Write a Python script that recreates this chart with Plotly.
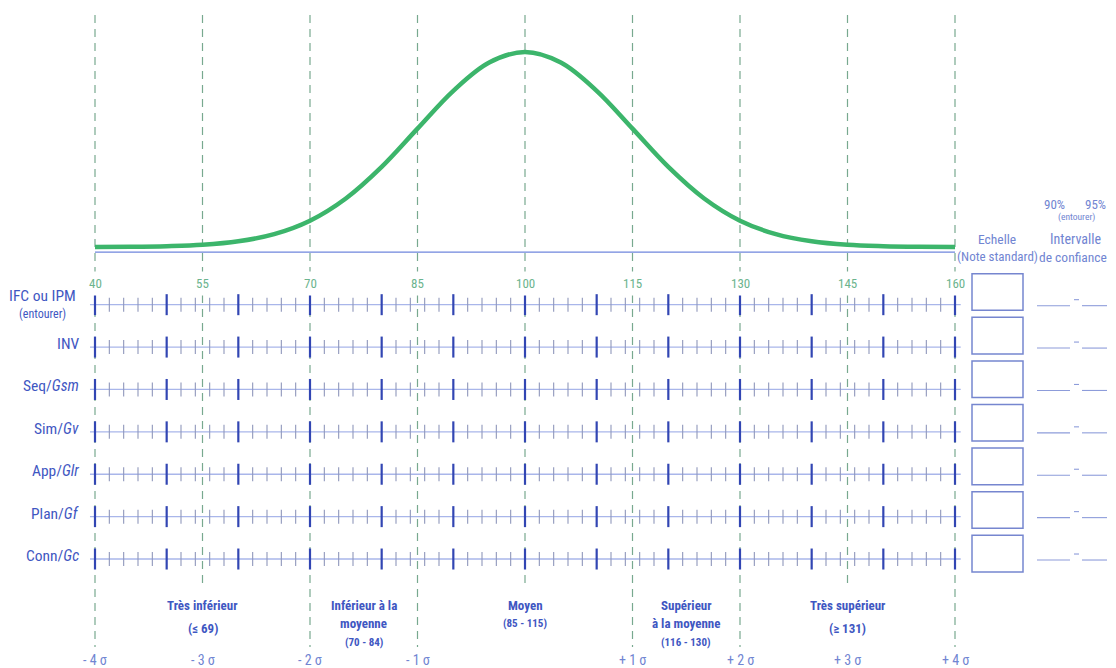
import plotly.graph_objects as go

# ---------------- data ----------------
score_min = 40
score_max = 160
major_ticks = [40, 50, 60, 70, 80, 90, 100, 110, 120, 130, 140, 150, 160]
minor_ticks = [42, 44, 46, 48, 52, 54, 56, 58, 62, 64, 66, 68, 72, 74, 76, 78,
               82, 84, 86, 88, 92, 94, 96, 98, 102, 104, 106, 108, 112, 114, 116, 118,
               122, 124, 126, 128, 132, 134, 136, 138, 142, 144, 146, 148, 152, 154, 156, 158]
guide_scores = [40, 55, 70, 85, 100, 115, 130, 145, 160]
guide_labels = ["40", "55", "70", "85", "100", "115", "130", "145", "160"]
sigma_labels = ["- 4 σ", "- 3 σ", "- 2 σ", "- 1 σ", "", "+ 1 σ", "+ 2 σ", "+ 3 σ", "+ 4 σ"]

curve_scores = [40, 45, 50, 55, 60, 65, 70, 75, 80, 85, 90, 95, 100,
                105, 110, 115, 120, 125, 130, 135, 140, 145, 150, 155, 160]
curve_height = [0.0, 0.1, 0.4, 1.1, 2.9, 6.6, 13.5, 24.9, 41.1, 60.7, 80.1, 94.6, 100.0,
                94.6, 80.1, 60.7, 41.1, 24.9, 13.5, 6.6, 2.9, 1.1, 0.4, 0.1, 0.0]

row_labels = ["IFC ou IPM", "INV", "Seq/<i>Gsm</i>", "Sim/<i>Gv</i>",
              "App/<i>Glr</i>", "Plan/<i>Gf</i>", "Conn/<i>Gc</i>"]
row_note = "(entourer)"

category_line1 = ["Très inférieur", "Inférieur à la", "Moyen", "Supérieur", "Très supérieur"]
category_line2 = ["", "moyenne", "", "à la moyenne", ""]
category_range = ["(≤ 69)", "(70 - 84)", "(85 - 115)", "(116 - 130)", "(≥ 131)"]
category_center = [55, 77.5, 100, 122.5, 145]

header_scale = ["Echelle", "(Note standard)"]
header_ci = ["Intervalle", "de confiance"]
ci_levels = ["90%", "95%"]

# ---------------- layout helpers ----------------
# the page puts the figure at (8, 8); positions below are screen pixels
OFF = 8
FW, FH = 1100, 660
FONT = "Roboto Condensed, Liberation Sans, Arial, sans-serif"
PX_PER_UNIT = 860 / 120.0
X40_PX = 95
x_range = [score_min + (OFF - X40_PX) / PX_PER_UNIT,
           score_min + (OFF + FW - X40_PX) / PX_PER_UNIT]

ROW0_PX, ROW_STEP_PX = 304.68, 42.39
y2_range = [(OFF + FH - ROW0_PX) / ROW_STEP_PX, (OFF - ROW0_PX) / ROW_STEP_PX]

CURVE_BASE_PX, CURVE_PX_PER_UNIT = 247.0, 1.95
Y_DOMAIN = [0.58, 0.97]
y_range = [(CURVE_BASE_PX - (OFF + (1 - Y_DOMAIN[0]) * FH)) / CURVE_PX_PER_UNIT,
           (CURVE_BASE_PX - (OFF + (1 - Y_DOMAIN[1]) * FH)) / CURVE_PX_PER_UNIT]


def py2row(py):
    return (py - ROW0_PX) / ROW_STEP_PX


def pyp(py):  # screen pixel y -> paper
    return 1 - (py - OFF) / FH


def pxp(px):  # screen pixel x -> paper
    return (px - OFF) / FW


C_GUIDE = "#78a98f"
C_CURVE = "#3cb56b"
C_BASE = "#6f86dd"
C_ROW = "#a9b6ea"
C_MAJOR = "#3246b3"
C_MINOR = "#8f97bb"
C_TEXT = "#3f57c2"
C_LIGHT = "#7185d2"
C_SCORE = "#6cb48e"

fig = go.Figure()

# bell curve
fig.add_trace(go.Scatter(x=curve_scores, y=curve_height, mode="lines",
                         line=dict(color=C_CURVE, width=4.5, shape="spline", smoothing=1.0),
                         xaxis="x", yaxis="y", hoverinfo="skip", showlegend=False))
# baseline under curve
fig.add_trace(go.Scatter(x=[score_min, score_max], y=[-2.6, -2.6], mode="lines",
                         line=dict(color=C_BASE, width=1.3),
                         xaxis="x", yaxis="y", hoverinfo="skip", showlegend=False))

# row lines
rx, ry = [], []
for i in range(len(row_labels)):
    rx += [score_min - 0.7, score_max + 0.8, None]
    ry += [i, i, None]
fig.add_trace(go.Scatter(x=rx, y=ry, mode="lines", line=dict(color=C_ROW, width=1.3),
                         xaxis="x2", yaxis="y2", hoverinfo="skip", showlegend=False))

# minor ticks
mx, my = [], []
for i in range(len(row_labels)):
    mx += minor_ticks
    my += [i] * len(minor_ticks)
fig.add_trace(go.Scatter(x=mx, y=my, mode="markers",
                         marker=dict(symbol="line-ns", size=10,
                                     line=dict(color=C_MINOR, width=1.1)),
                         xaxis="x2", yaxis="y2", hoverinfo="skip", showlegend=False))
# major ticks
Mx, My = [], []
for i in range(len(row_labels)):
    Mx += major_ticks
    My += [i] * len(major_ticks)
fig.add_trace(go.Scatter(x=Mx, y=My, mode="markers",
                         marker=dict(symbol="line-ns", size=15,
                                     line=dict(color=C_MAJOR, width=2.2)),
                         xaxis="x2", yaxis="y2", hoverinfo="skip", showlegend=False))

shapes = []
annotations = []

# dashed guide lines
for s in guide_scores:
    bottom = 587 if s in category_center else 647
    shapes.append(dict(type="line", xref="x", yref="paper", x0=s, x1=s,
                       y0=pyp(15), y1=pyp(bottom), layer="below",
                       line=dict(color=C_GUIDE, width=1.2, dash="8px,6px")))

# score labels and sigma labels
for s, lab, sig in zip(guide_scores, guide_labels, sigma_labels):
    annotations.append(dict(x=s, y=pyp(283), xref="x", yref="paper", text=lab,
                            xanchor="center", yanchor="middle", showarrow=False,
                            bgcolor="white", borderpad=4,
                            font=dict(family=FONT, size=13, color=C_SCORE)))
    if sig:
        annotations.append(dict(x=s, y=pyp(660), xref="x", yref="paper", text=sig,
                                xanchor="center", yanchor="middle", showarrow=False,
                                font=dict(family=FONT, size=14, color=C_LIGHT)))

# row labels
for i, lab in enumerate(row_labels):
    if i == 0:
        annotations.append(dict(x=pxp(43), y=i, xref="paper", yref="y2", text=lab,
                                showarrow=False, xanchor="center", yanchor="middle", yshift=9,
                                font=dict(family=FONT, size=15.5, color=C_TEXT)))
        annotations.append(dict(x=pxp(43), y=i, xref="paper", yref="y2", text=row_note,
                                showarrow=False, xanchor="center", yanchor="middle", yshift=-9,
                                font=dict(family=FONT, size=12, color=C_TEXT)))
    else:
        annotations.append(dict(x=pxp(81), y=i, xref="paper", yref="y2", text=lab,
                                showarrow=False, xanchor="right", yanchor="middle", yshift=3,
                                font=dict(family=FONT, size=15.5, color=C_TEXT)))

# category labels
for c, l1, l2, rg in zip(category_center, category_line1, category_line2, category_range):
    annotations.append(dict(x=c, y=pyp(605), xref="x", yref="paper", text=f"<b>{l1}</b>",
                            xanchor="center", yanchor="middle", showarrow=False,
                            font=dict(family=FONT, size=13, color=C_TEXT)))
    if l2:
        annotations.append(dict(x=c, y=pyp(623), xref="x", yref="paper", text=f"<b>{l2}</b>",
                                xanchor="center", yanchor="middle", showarrow=False,
                                font=dict(family=FONT, size=13, color=C_TEXT)))
        annotations.append(dict(x=c, y=pyp(642), xref="x", yref="paper", text=f"<b>{rg}</b>",
                                xanchor="center", yanchor="middle", showarrow=False,
                                font=dict(family=FONT, size=11, color=C_TEXT)))
    else:
        big = "≤" in rg or "≥" in rg
        annotations.append(dict(x=c, y=pyp(628 if big else 623), xref="x", yref="paper",
                                text=f"<b>{rg}</b>", xanchor="center", yanchor="middle",
                                showarrow=False,
                                font=dict(family=FONT, size=13 if big else 11, color=C_TEXT)))

# right header
hdr = [(997, 239, header_scale[0], 13.5), (997, 257, header_scale[1], 13),
       (1075, 239, header_ci[0], 14), (1073, 257, header_ci[1], 13.5),
       (1054, 204, ci_levels[0], 13), (1095, 204, ci_levels[1], 13),
       (1076, 217, row_note, 9.5)]
for hx, hy, txt, sz in hdr:
    annotations.append(dict(x=pxp(hx), y=pyp(hy), xref="paper", yref="paper", text=txt,
                            xanchor="center", yanchor="middle", showarrow=False,
                            font=dict(family=FONT, size=sz, color=C_LIGHT)))

# score boxes and confidence interval blanks
for i in range(len(row_labels)):
    cy = 292 + 43.6 * i
    shapes.append(dict(type="rect", xref="paper", yref="y2",
                       x0=pxp(972), x1=pxp(1023), y0=py2row(cy - 18.3), y1=py2row(cy + 18.3),
                       line=dict(color="#7686cf", width=1.5), fillcolor="white"))
    for x0, x1, dy in [(1037, 1070, 1), (1082, 1107, 1), (1074, 1079, -5)]:
        shapes.append(dict(type="line", xref="paper", yref="y2", x0=pxp(x0), x1=pxp(x1),
                           y0=i + dy / ROW_STEP_PX, y1=i + dy / ROW_STEP_PX,
                           line=dict(color="#8d9cda", width=1.1)))

axis_off = dict(visible=False, showgrid=False, zeroline=False, fixedrange=True)
fig.update_layout(
    width=FW, height=FH,
    margin=dict(l=0, r=0, t=0, b=0),
    paper_bgcolor="white", plot_bgcolor="rgba(0,0,0,0)",
    showlegend=False,
    xaxis=dict(range=x_range, domain=[0, 1], anchor="y", **axis_off),
    yaxis=dict(range=y_range, domain=Y_DOMAIN, anchor="x", **axis_off),
    xaxis2=dict(range=x_range, domain=[0, 1], anchor="y2", matches="x", **axis_off),
    yaxis2=dict(range=y2_range, domain=[0, 1], anchor="x2", **axis_off),
    shapes=shapes,
    annotations=annotations,
)

fig.write_html("out.html")
